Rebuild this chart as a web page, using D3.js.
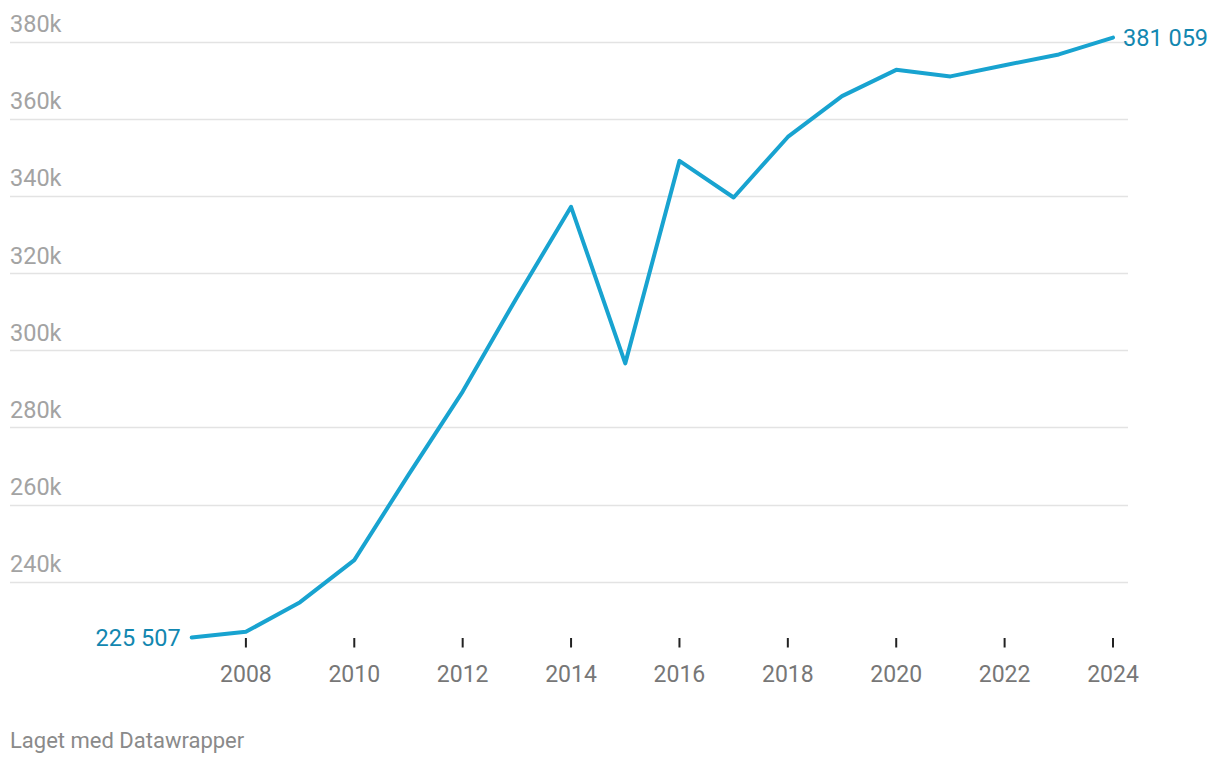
<!DOCTYPE html>
<html>
<head>
<meta charset="utf-8">
<script src="https://cdn.jsdelivr.net/npm/d3@7"></script>
<style>
  html, body { margin: 0; padding: 0; background: #fff; }
  svg { display: block; font-family: Roboto, "Noto Sans", sans-serif; }
</style>
</head>
<body>
<svg id="chart" width="1220" height="764"></svg>
<script>
const years = [2007, 2008, 2009, 2010, 2011, 2012, 2013, 2014, 2015, 2016, 2017, 2018, 2019, 2020, 2021, 2022, 2023, 2024];
const values = [225507, 227000, 234700, 245600, 267700, 289300, 313700, 337200, 296600, 349100, 339600, 355300, 365900, 372700, 371000, 373900, 376700, 381059];
const yTicks = [240000, 260000, 280000, 300000, 320000, 340000, 360000, 380000];
const xTicks = [2008, 2010, 2012, 2014, 2016, 2018, 2020, 2022, 2024];
const footer = "Laget med Datawrapper";

const svg = d3.select("#chart");
const x = d3.scaleLinear().domain([2007, 2024]).range([191.7, 1113]);
const y = d3.scaleLinear().domain([240000, 380000]).range([581.7, 41.7]);

// gridlines + y labels
const yAxis = svg.append("g");
yAxis.selectAll("line").data(yTicks).join("line")
  .attr("x1", 10).attr("x2", 1128)
  .attr("y1", d => Math.round(y(d)) + 0.5).attr("y2", d => Math.round(y(d)) + 0.5)
  .attr("stroke", "#e3e3e3").attr("stroke-width", 1.5);
yAxis.selectAll("text").data(yTicks).join("text")
  .attr("x", 10).attr("y", d => y(d) - 9.5)
  .attr("fill", "#a3a3a3").attr("font-size", 23.5)
  .text(d => d3.format("d")(d / 1000) + "k");

// x axis ticks
const xAxis = svg.append("g");
xAxis.selectAll("line").data(xTicks).join("line")
  .attr("x1", d => x(d)).attr("x2", d => x(d))
  .attr("y1", 638).attr("y2", 647.5)
  .attr("stroke", "#222").attr("stroke-width", 2);
xAxis.selectAll("text").data(xTicks).join("text")
  .attr("x", d => x(d)).attr("y", 682)
  .attr("text-anchor", "middle")
  .attr("fill", "#777").attr("font-size", 23)
  .text(d => d);

// line
const line = d3.line().x((d, i) => x(years[i])).y(d => y(d));
svg.append("path").datum(values)
  .attr("d", line)
  .attr("fill", "none")
  .attr("stroke", "#18a3d0")
  .attr("stroke-width", 4)
  .attr("stroke-linejoin", "round")
  .attr("stroke-linecap", "round");

// value labels
const fmt = v => d3.format(",")(v).replace(/,/g, " ");
svg.append("text")
  .attr("x", x(years[0]) - 11).attr("y", y(values[0]) + 8)
  .attr("text-anchor", "end").attr("fill", "#1287b0").attr("font-size", 23.5)
  .text(fmt(values[0]));
svg.append("text")
  .attr("x", x(years[years.length - 1]) + 10).attr("y", y(values[values.length - 1]) + 8)
  .attr("text-anchor", "start").attr("fill", "#1287b0").attr("font-size", 23.5)
  .text(fmt(values[values.length - 1]));

// footer
svg.append("text")
  .attr("x", 10).attr("y", 748)
  .attr("fill", "#8a8a8a").attr("font-size", 22)
  .text(footer);
</script>
</body>
</html>
